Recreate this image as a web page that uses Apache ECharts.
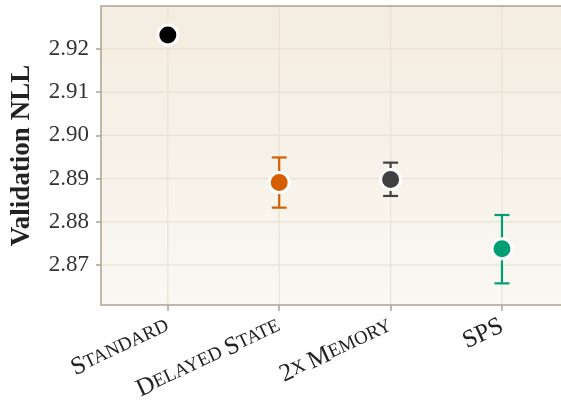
<!DOCTYPE html>
<html>
<head>
<meta charset="utf-8">
<script src="https://cdn.jsdelivr.net/npm/echarts@6/dist/echarts.min.js"></script>
<style>
    html, body { margin: 0; padding: 0; background: #fff; }
    #main { width: 561px; height: 402px; }
</style>
</head>
<body>
<div id="main"></div>
<script>
var categories = ['Standard', 'Delayed State', '2x Memory', 'SPS'];
var means = [2.9232, 2.8891, 2.8898, 2.8738];
var lower = [null, 2.8833, 2.8860, 2.8658];
var upper = [null, 2.8949, 2.8937, 2.8816];
var colors = ['#000000', '#d55e00', '#404040', '#009e73'];
var yTicks = [2.87, 2.88, 2.89, 2.90, 2.91, 2.92];

// small caps: first letter of a word big, rest small upper case
function smallCaps(label) {
    return label.split(' ').map(function (w) {
        if (w === w.toUpperCase() && /[A-Z]/.test(w)) return '{c|' + w + '}';
        return '{c|' + w.charAt(0).toUpperCase() + '}{s|' + w.slice(1).toUpperCase() + '}';
    }).join('{s| }');
}

var xIdx = categories.map(function (c, i) { return i; });

var scatterData = means.map(function (v, i) {
    return { value: [i, v], itemStyle: { color: colors[i] } };
});
var errData = [];
for (var i = 0; i < categories.length; i++) {
    if (lower[i] != null) errData.push([i, lower[i], upper[i], i]);
}

var serif = '"Liberation Serif", "DejaVu Serif", serif';
var borderColor = '#ada391';
var myChart = echarts.init(document.getElementById('main'));
var option = {
    animation: false,
    grid: {
        left: 101, top: 6, right: 0, bottom: 97,
        outerBoundsMode: 'none',
        show: true,
        borderWidth: 0,
        backgroundColor: new echarts.graphic.LinearGradient(0, 0, 0, 1, [
            { offset: 0, color: '#f3ece0' },
            { offset: 1, color: '#faf8f2' }
        ])
    },
    xAxis: {
        type: 'value',
        min: -0.6,
        max: 3.53,
        axisLine: { show: false, onZero: false },
        axisTick: { show: true, customValues: xIdx, length: 6, lineStyle: { color: borderColor, width: 1.5 } },
        splitLine: { show: false },
        axisLabel: {
            customValues: xIdx,
            rotate: 25,
            margin: 20,
            formatter: function (v) { return smallCaps(categories[Math.round(v)]); },
            rich: {
                c: { fontFamily: serif, fontSize: 25, color: '#222' },
                s: { fontFamily: serif, fontSize: 19, color: '#222' }
            }
        }
    },
    yAxis: {
        type: 'value',
        min: 2.8608,
        max: 2.9299,
        name: 'Validation NLL',
        nameLocation: 'middle',
        nameGap: 65,
        nameTextStyle: { fontFamily: serif, fontSize: 27, fontWeight: 'bold', color: '#222' },
        axisLine: { show: false, onZero: false },
        axisTick: { show: true, customValues: yTicks, length: 5, lineStyle: { color: borderColor, width: 1.5 } },
        splitLine: { show: false },
        axisLabel: {
            customValues: yTicks,
            margin: 12,
            fontFamily: serif,
            fontSize: 23,
            color: '#333',
            formatter: function (v) { return v.toFixed(2); }
        }
    },
    series: [
        {
            // grid lines + left/top/bottom frame
            type: 'custom',
            silent: true,
            z: 1,
            data: [0],
            renderItem: function (params, api) {
                var children = [];
                var cs = params.coordSys;
                yTicks.forEach(function (t) {
                    var p = api.coord([0, t]);
                    children.push({ type: 'line', shape: { x1: cs.x, y1: p[1], x2: cs.x + cs.width, y2: p[1] },
                        style: { stroke: '#e9e1d3', lineWidth: 1.2 } });
                });
                xIdx.forEach(function (t) {
                    var p = api.coord([t, 2.9]);
                    children.push({ type: 'line', shape: { x1: p[0], y1: cs.y, x2: p[0], y2: cs.y + cs.height },
                        style: { stroke: '#e9e1d3', lineWidth: 1.2 } });
                });
                children.push({ type: 'polyline', shape: { points: [
                    [cs.x + cs.width + 2, cs.y], [cs.x, cs.y], [cs.x, cs.y + cs.height], [cs.x + cs.width + 2, cs.y + cs.height]
                ] }, style: { stroke: borderColor, lineWidth: 1.5, fill: null } });
                return { type: 'group', children: children };
            }
        },
        {
            type: 'custom',
            z: 2,
            data: errData,
            renderItem: function (params, api) {
                var x = api.value(0);
                var lo = api.coord([x, api.value(1)]);
                var hi = api.coord([x, api.value(2)]);
                var c = colors[api.value(3)];
                var hw = 7.5;
                var st = { stroke: c, lineWidth: 2.2 };
                return {
                    type: 'group',
                    children: [
                        { type: 'line', shape: { x1: lo[0], y1: lo[1], x2: hi[0], y2: hi[1] }, style: st },
                        { type: 'line', shape: { x1: lo[0] - hw, y1: lo[1], x2: lo[0] + hw, y2: lo[1] }, style: st },
                        { type: 'line', shape: { x1: hi[0] - hw, y1: hi[1], x2: hi[0] + hw, y2: hi[1] }, style: st }
                    ]
                };
            }
        },
        {
            type: 'scatter',
            z: 3,
            symbol: 'circle',
            symbolSize: 20,
            itemStyle: { borderColor: '#ffffff', borderWidth: 3, opacity: 1 },
            data: scatterData
        }
    ]
};
// 为echarts对象加载数据
myChart.setOption(option);
</script>
</body>
</html>
